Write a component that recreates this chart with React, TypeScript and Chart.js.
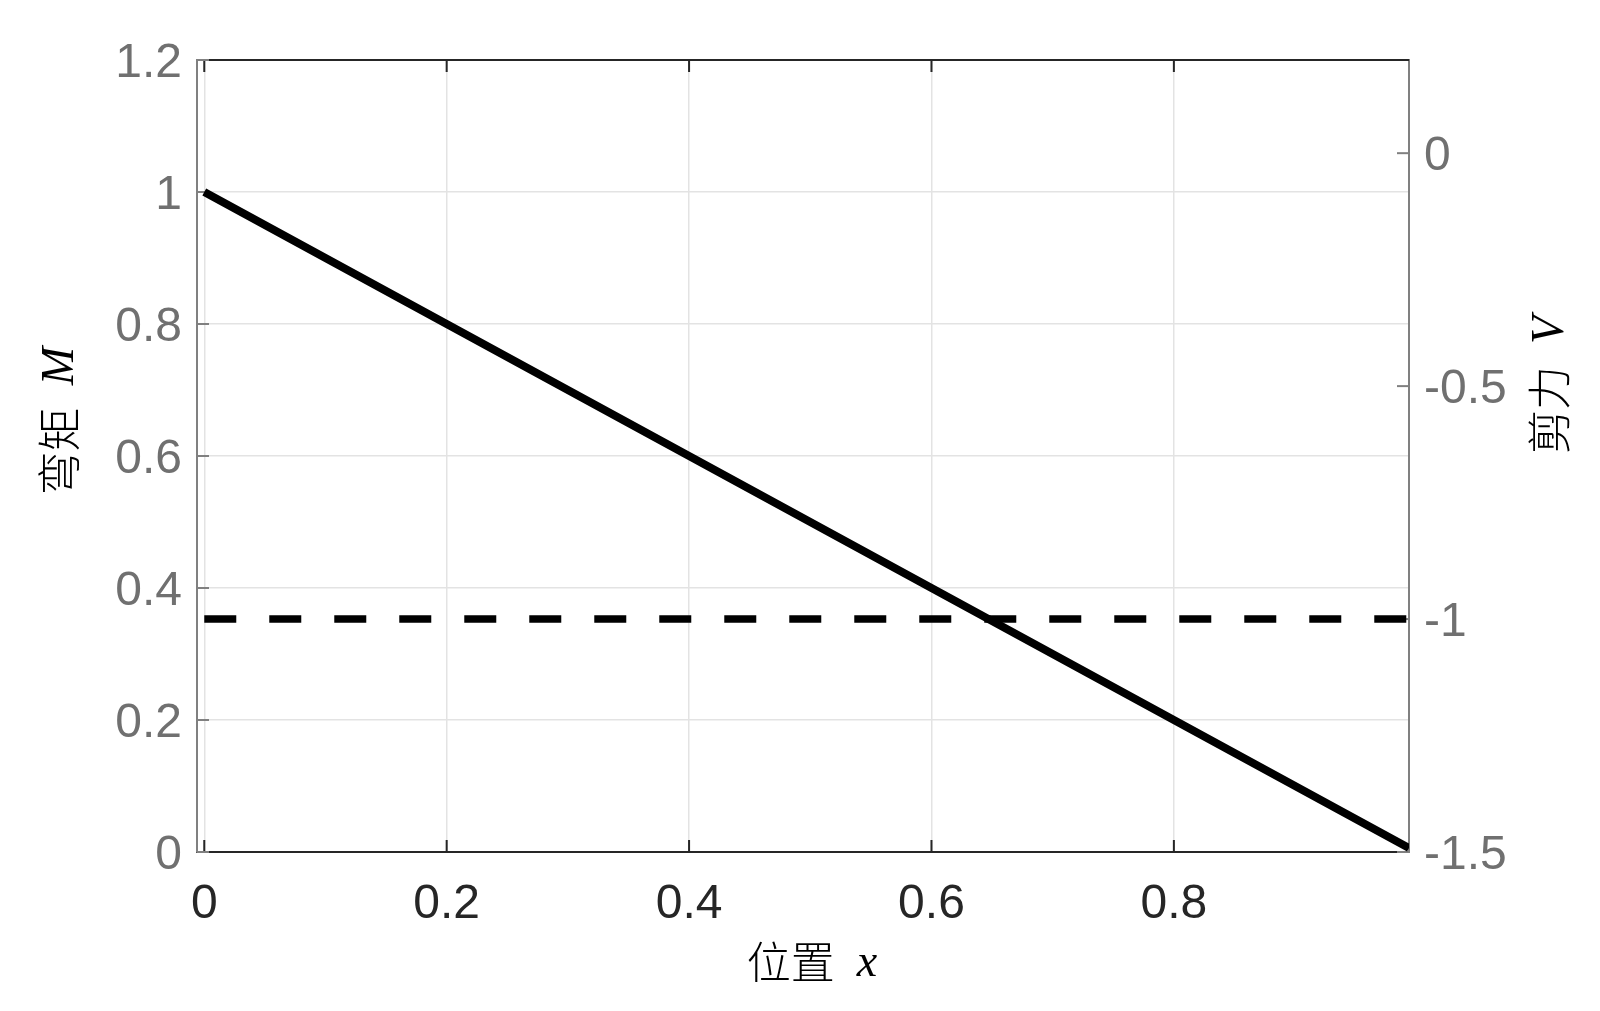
import React, { useEffect, useRef } from "react";
import { Chart, registerables } from "chart.js";

Chart.register(...registerables);

// ---- data ----
const positionX = [0, 0.2, 0.4, 0.6, 0.8, 0.994];
const momentM = [1, 0.8, 0.6, 0.4, 0.2, 0.006];
const shearX = [0, 0.994];
const shearV = [-1, -1];

const xTicks = [0, 0.2, 0.4, 0.6, 0.8];
const leftTicks = [0, 0.2, 0.4, 0.6, 0.8, 1, 1.2];
const rightTicks = [-1.5, -1, -0.5, 0];

const xTitleMain = "位置";
const xTitleVar = "x";
const leftTitleMain = "弯矩";
const leftTitleVar = "M";
const rightTitleMain = "剪力";
const rightTitleVar = "V";

const TICK_FONT = "'Liberation Sans', Arial, sans-serif";
const CJK_FONT = "'Noto Sans CJK SC', sans-serif";
const SERIF_FONT = "'Liberation Serif', 'Times New Roman', serif";

function drawMixedTitle(ctx: CanvasRenderingContext2D, main: string, v: string, cx: number, cy: number, rot: number) {
  const size = 44;
  const gap = 22;
  ctx.save();
  ctx.translate(cx, cy);
  ctx.rotate(rot);
  ctx.fillStyle = "#000000";
  ctx.textBaseline = "middle";
  ctx.textAlign = "left";
  ctx.font = `300 ${size}px ${CJK_FONT}`;
  const w1 = ctx.measureText(main).width;
  ctx.font = `italic ${size + 2}px ${SERIF_FONT}`;
  const w2 = ctx.measureText(v).width;
  const total = w1 + gap + w2;
  ctx.font = `300 ${size}px ${CJK_FONT}`;
  ctx.fillText(main, -total / 2, 0);
  ctx.font = `italic ${size + 2}px ${SERIF_FONT}`;
  ctx.fillText(v, -total / 2 + w1 + gap, 2);
  ctx.restore();
}

const decorPlugin = {
  id: "decor",
  beforeDatasetsDraw(chart: any) {
    const { ctx, chartArea: a, scales } = chart;
    ctx.save();
    ctx.strokeStyle = "#262626";
    ctx.lineWidth = 2;
    ctx.beginPath();
    ctx.moveTo(a.left, a.top);
    ctx.lineTo(a.right, a.top);
    ctx.stroke();
    const tl = 12;
    xTicks.forEach((v) => {
      const px = scales.x.getPixelForValue(v);
      ctx.beginPath();
      ctx.moveTo(px, a.bottom);
      ctx.lineTo(px, a.bottom - tl);
      ctx.moveTo(px, a.top);
      ctx.lineTo(px, a.top + tl);
      ctx.stroke();
    });
    ctx.strokeStyle = "#808080";
    leftTicks.forEach((v) => {
      const py = scales.y.getPixelForValue(v);
      ctx.beginPath();
      ctx.moveTo(a.left, py);
      ctx.lineTo(a.left + tl, py);
      ctx.stroke();
    });
    rightTicks.forEach((v) => {
      const py = scales.y2.getPixelForValue(v);
      ctx.beginPath();
      ctx.moveTo(a.right, py);
      ctx.lineTo(a.right - tl, py);
      ctx.stroke();
    });
    ctx.restore();
  },
  afterDraw(chart: any) {
    const { ctx, chartArea: a } = chart;
    const midX = (a.left + a.right) / 2;
    drawMixedTitle(ctx, xTitleMain, xTitleVar, midX + 9, 962, 0);
    drawMixedTitle(ctx, leftTitleMain, leftTitleVar, 59, 421, -Math.PI / 2);
    drawMixedTitle(ctx, rightTitleMain, rightTitleVar, 1549, 385, -Math.PI / 2);
  },
};

export default function App() {
  const canvasRef = useRef<HTMLCanvasElement | null>(null);

  useEffect(() => {
    if (!canvasRef.current) return;
    const chart = new Chart(canvasRef.current, {
      type: "line",
      data: {
        datasets: [
          {
            label: "弯矩 M",
            data: positionX.map((x, i) => ({ x, y: momentM[i] })),
            borderColor: "#000000",
            borderWidth: 8,
            pointRadius: 0,
            borderCapStyle: "butt",
            yAxisID: "y",
            fill: false,
            tension: 0,
          },
          {
            label: "剪力 V",
            data: shearX.map((x, i) => ({ x, y: shearV[i] })),
            borderColor: "#000000",
            borderWidth: 7.5,
            borderDash: [32, 33],
            borderCapStyle: "butt",
            pointRadius: 0,
            yAxisID: "y2",
            fill: false,
          },
        ],
      },
      options: {
        responsive: true,
        maintainAspectRatio: false,
        animation: false,
        layout: { padding: { top: 60, left: 0, right: 0, bottom: 0 } },
        plugins: { legend: { display: false }, tooltip: { enabled: false }, title: { display: false } },
        scales: {
          x: {
            type: "linear",
            min: -0.006,
            max: 0.994,
            afterBuildTicks: (s: any) => {
              s.ticks = xTicks.map((v) => ({ value: v }));
            },
            afterFit: (s: any) => {
              s.height = 159;
            },
            ticks: {
              color: "#262626",
              font: { family: TICK_FONT, size: 48 },
              padding: 24,
              maxRotation: 0,
              callback: (v: any) => String(v),
            },
            grid: { color: "#e3e3e3", lineWidth: 1.5, drawTicks: false },
            border: { color: "#262626", width: 2 },
          },
          y: {
            type: "linear",
            position: "left",
            min: 0,
            max: 1.2,
            afterBuildTicks: (s: any) => {
              s.ticks = leftTicks.map((v) => ({ value: v }));
            },
            afterFit: (s: any) => {
              s.width = 197;
            },
            ticks: {
              color: "#707070",
              font: { family: TICK_FONT, size: 48 },
              padding: 15,
              labelOffset: 4,
              callback: (v: any) => String(v),
            },
            grid: { color: "#e3e3e3", lineWidth: 1.5, drawTicks: false },
            border: { color: "#808080", width: 2 },
          },
          y2: {
            type: "linear",
            position: "right",
            min: -1.5,
            max: 0.2,
            afterBuildTicks: (s: any) => {
              s.ticks = rightTicks.map((v) => ({ value: v }));
            },
            afterFit: (s: any) => {
              s.width = 191;
            },
            ticks: {
              color: "#707070",
              font: { family: TICK_FONT, size: 48 },
              padding: 15,
              labelOffset: 4,
              callback: (v: any) => String(v),
            },
            grid: { display: false, drawTicks: false },
            border: { color: "#808080", width: 2 },
          },
        },
      },
      plugins: [decorPlugin],
    });
    return () => chart.destroy();
  }, []);

  return (
    <div style={{ position: "absolute", left: 0, top: 0, width: 1600, height: 1011, background: "#ffffff" }}>
      <canvas ref={canvasRef} />
    </div>
  );
}
